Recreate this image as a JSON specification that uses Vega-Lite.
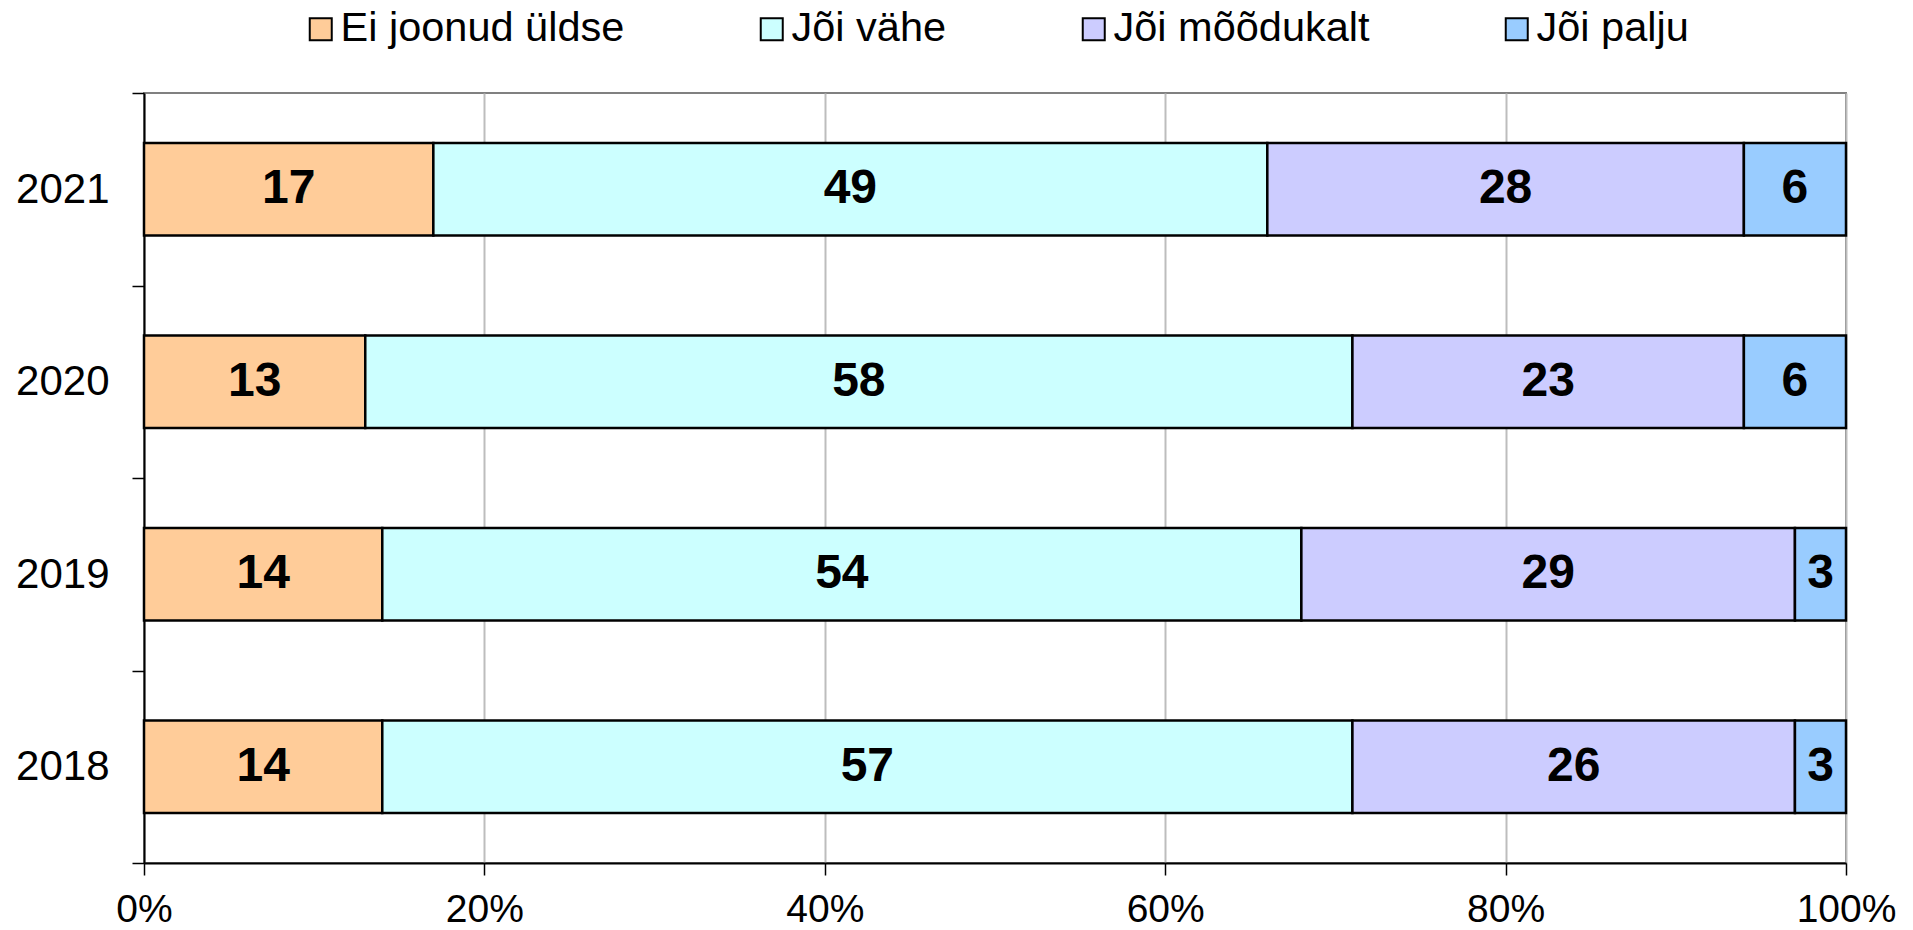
{
  "$schema": "https://vega.github.io/schema/vega-lite/v6.json",
  "autosize": {"type": "none"},
  "width": 1702,
  "height": 770,
  "padding": {"left": 144, "top": 93, "right": 67, "bottom": 67},
  "background": "white",
  "config": {
    "font": "Liberation Sans",
    "view": {"stroke": "#808080", "strokeWidth": 2},
    "axis": {"labelFont": "Liberation Sans", "labelColor": "black"}
  },
  "data": {
    "values": [
      {"year": "2021", "cat": "Ei joonud üldse", "ord": 1, "value": 17},
      {"year": "2021", "cat": "Jõi vähe", "ord": 2, "value": 49},
      {"year": "2021", "cat": "Jõi mõõdukalt", "ord": 3, "value": 28},
      {"year": "2021", "cat": "Jõi palju", "ord": 4, "value": 6},
      {"year": "2020", "cat": "Ei joonud üldse", "ord": 1, "value": 13},
      {"year": "2020", "cat": "Jõi vähe", "ord": 2, "value": 58},
      {"year": "2020", "cat": "Jõi mõõdukalt", "ord": 3, "value": 23},
      {"year": "2020", "cat": "Jõi palju", "ord": 4, "value": 6},
      {"year": "2019", "cat": "Ei joonud üldse", "ord": 1, "value": 14},
      {"year": "2019", "cat": "Jõi vähe", "ord": 2, "value": 54},
      {"year": "2019", "cat": "Jõi mõõdukalt", "ord": 3, "value": 29},
      {"year": "2019", "cat": "Jõi palju", "ord": 4, "value": 3},
      {"year": "2018", "cat": "Ei joonud üldse", "ord": 1, "value": 14},
      {"year": "2018", "cat": "Jõi vähe", "ord": 2, "value": 57},
      {"year": "2018", "cat": "Jõi mõõdukalt", "ord": 3, "value": 26},
      {"year": "2018", "cat": "Jõi palju", "ord": 4, "value": 3}
    ]
  },
  "transform": [
    {"stack": "value", "groupby": ["year"], "sort": [{"field": "ord", "order": "ascending"}], "as": ["x0", "x1"]},
    {"calculate": "(datum.x0 + datum.x1) / 2", "as": "xmid"}
  ],
  "encoding": {
    "y": {
      "field": "year", "type": "nominal",
      "sort": ["2021", "2020", "2019", "2018"],
      "scale": {"paddingInner": 0, "paddingOuter": 0},
      "axis": {
        "title": null, "domainColor": "black", "domainWidth": 2,
        "tickBand": "extent", "tickColor": "black", "tickWidth": 1.5, "tickSize": 12,
        "labelPadding": 23, "labelFontSize": 42, "grid": false
      }
    }
  },
  "layer": [
    {
      "mark": {"type": "bar", "stroke": "black", "strokeWidth": 2.5, "opacity": 1, "height": {"band": 0.48}},
      "encoding": {
        "x": {
          "field": "x0", "type": "quantitative",
          "scale": {"domain": [0, 100], "nice": false},
          "axis": {
            "title": null, "values": [0, 20, 40, 60, 80, 100],
            "labelExpr": "datum.value + '%'", "labelFontSize": 39,
            "grid": true, "gridColor": "#BDBDBD", "gridWidth": 2,
            "domainColor": "black", "domainWidth": 2,
            "tickColor": "black", "tickWidth": 1.5, "tickSize": 12,
            "labelPadding": 15, "labelFlush": false
          }
        },
        "x2": {"field": "x1"},
        "color": {
          "field": "cat", "type": "nominal",
          "scale": {
            "domain": ["Ei joonud üldse", "Jõi vähe", "Jõi mõõdukalt", "Jõi palju"],
            "range": ["#FFCC99", "#CCFFFF", "#CCCCFF", "#99CCFF"]
          },
          "legend": {
            "title": null, "orient": "none", "legendX": 156, "legendY": -85,
            "direction": "horizontal", "columns": 4, "padding": 0,
            "symbolType": "square", "symbolSize": 484,
            "symbolStrokeColor": "black", "symbolStrokeWidth": 2, "symbolOpacity": 1,
            "labelFont": "Liberation Sans", "labelFontSize": 41.5, "labelColor": "black",
            "labelOffset": -1, "columnPadding": 126, "labelLimit": 0
          }
        }
      }
    },
    {
      "mark": {"type": "text", "font": "Liberation Sans", "fontSize": 48, "fontWeight": "bold", "color": "black", "baseline": "middle", "align": "center"},
      "encoding": {
        "x": {"field": "xmid", "type": "quantitative"},
        "text": {"field": "value", "type": "quantitative"}
      }
    }
  ]
}
